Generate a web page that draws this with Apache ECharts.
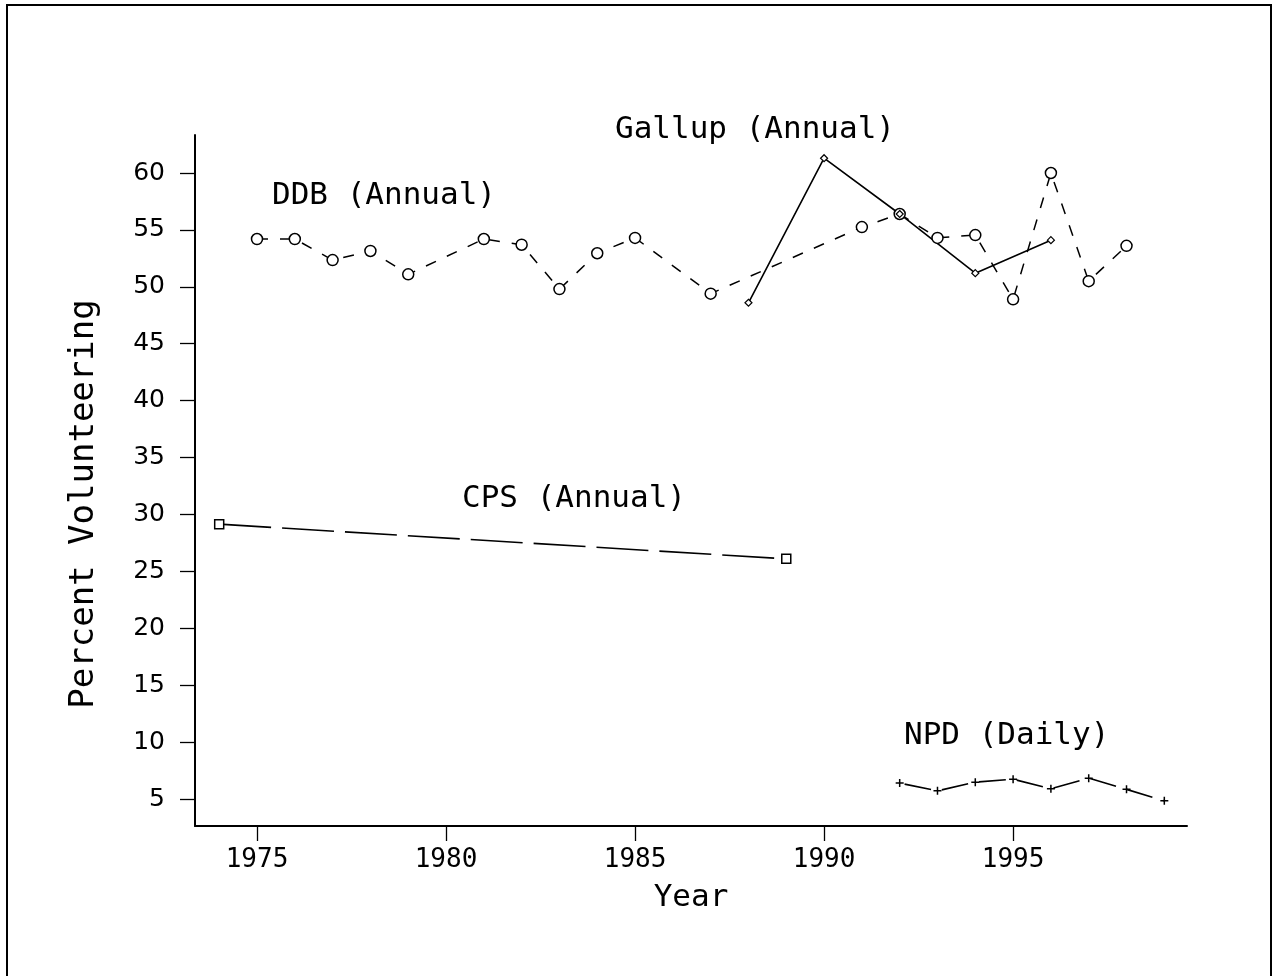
<!DOCTYPE html>
<html>
<head>
<meta charset="utf-8">
<script src="https://cdn.jsdelivr.net/npm/echarts@6/dist/echarts.min.js"></script>
<style>
  html,body{margin:0;padding:0;background:#fff;}
  #chart{width:1273px;height:976px;}
</style>
</head>
<body>
<div id="chart"></div>
<script>
var chart = echarts.init(document.getElementById('chart'));

// survey series, [year, percent]
var ddb = [[1975,54.2],[1976,54.2],[1977,52.35],[1978,53.15],[1979,51.1],[1981,54.2],[1982,53.7],
  [1983,49.8],[1984,52.95],[1985,54.3],[1987,49.4],[1991,55.25],[1992,56.4],[1993,54.3],
  [1994,54.55],[1995,48.9],[1996,60.0],[1997,50.5],[1998,53.6]];
var gallup = [[1988,48.6],[1990,61.3],[1992,56.4],[1994,51.2],[1996,54.1]];
var cps = [[1974,29.15],[1989,26.1]];
var npd = [[1992,6.4],[1993,5.72],[1994,6.48],[1995,6.74],[1996,5.9],[1997,6.83],[1998,5.85],[1999,4.84]];

var xTicks = [1975, 1980, 1985, 1990, 1995];
var yTicks = [5, 10, 15, 20, 25, 30, 35, 40, 45, 50, 55, 60];

var mono = 'DejaVu Sans Mono';
var plus = 'path://M0,5L10,5M5,0L5,10';

function txt(x, y, s){
  return {type:'text', left:x, top:y, style:{text:s, font:'31px "' + mono + '"', fill:'#000'}};
}

var option = {
  animation: false,
  backgroundColor: '#fff',
  grid: {left:195, right:86, top:135, bottom:150},
  xAxis: {
    type: 'value',
    min: 1973.36,
    max: 1999.6,
    name: 'Year',
    nameLocation: 'middle',
    nameGap: 56,
    nameTextStyle: {fontFamily: mono, fontSize: 31, color:'#000'},
    splitLine: {show:false},
    axisLine: {lineStyle:{color:'#000', width:2}},
    axisTick: {customValues: xTicks, length:15, lineStyle:{color:'#000', width:1.3}},
    axisLabel: {customValues: xTicks, fontFamily: mono, fontSize: 26, color:'#000', margin: 21,
      formatter: function(v){ return String(v); }}
  },
  yAxis: {
    type: 'value',
    min: 2.63,
    max: 63.34,
    splitLine: {show:false},
    axisLine: {show:true, lineStyle:{color:'#000', width:2}},
    axisTick: {show:true, customValues: yTicks, length:15, lineStyle:{color:'#000', width:1.3}},
    axisLabel: {customValues: yTicks, fontFamily: 'DejaVu Sans', fontSize: 25, color:'#000', margin: 30}
  },
  series: [
    {
      name: 'DDB', type: 'line', data: ddb,
      symbol: 'circle', symbolSize: 11, showAllSymbol: true,
      lineStyle: {color:'#000', width:1.5, type:[11,12]},
      itemStyle: {color:'#fff', borderColor:'#000', borderWidth:1.5}
    },
    {
      name: 'Gallup', type: 'line', data: gallup,
      symbol: 'diamond', symbolSize: 7,
      lineStyle: {color:'#000', width:1.6},
      itemStyle: {color:'#fff', borderColor:'#000', borderWidth:1.2}
    },
    {
      name: 'CPS', type: 'line', data: cps,
      symbol: 'rect', symbolSize: 9,
      lineStyle: {color:'#000', width:1.6, type:[52,11]},
      itemStyle: {color:'#fff', borderColor:'#000', borderWidth:1.5}
    },
    {
      name: 'NPD', type: 'line', data: npd,
      symbol: plus, symbolSize: 8,
      lineStyle: {color:'#000', width:1.6, type:[27,11], dashOffset:-5},
      itemStyle: {color:'none', borderColor:'#000', borderWidth:1.5}
    }
  ],
  graphic: [
    {type:'rect', shape:{x:7, y:5, width:1264, height:990}, style:{fill:'none', stroke:'#000', lineWidth:2}},
    txt(272, 180, 'DDB (Annual)'),
    txt(615, 114, 'Gallup (Annual)'),
    txt(462, 483, 'CPS (Annual)'),
    txt(904, 720, 'NPD (Daily)'),
    {type:'text', x:84, y:504, rotation:Math.PI/2,
      style:{text:'Percent Volunteering', font:'34px "' + mono + '"', fill:'#000',
        align:'center', verticalAlign:'middle', textAlign:'center', textVerticalAlign:'middle'}}
  ]
};
chart.setOption(option);
</script>
</body>
</html>
